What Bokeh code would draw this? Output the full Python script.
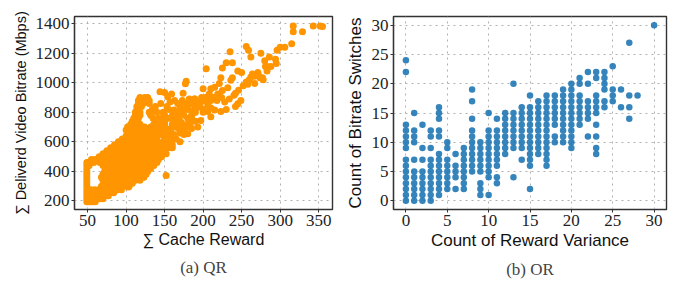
from bokeh.plotting import figure
from bokeh.layouts import row
from bokeh.models import Title, FixedTicker
from bokeh.embed import file_html
from bokeh.resources import INLINE

# ---------------- (a) QR data: cache reward vs delivered bitrate ----------------
# dense region, listed as bitrate level -> cache reward values
qr_rows = {
    195: [49, 51, 54, 57, 60],
    215: [49, 52, 55, 59, 62, 66, 70],
    235: [49, 53, 58, 63, 68, 73, 77],
    255: [49, 53, 57, 61, 65, 69, 74, 79, 84],
    275: [49, 54, 59, 64, 69, 74, 79, 84, 89, 94],
    300: [49, 68, 74, 80, 86, 92, 98, 104],
    320: [49, 72, 78, 84, 90, 96, 102, 108],
    340: [49, 70, 76, 82, 88, 94, 100, 106, 112, 118],
    360: [49, 68, 74, 80, 86, 92, 98, 104, 110, 116, 123],
    380: [49, 70, 78, 84, 90, 96, 102, 108, 114, 120, 126],
    400: [49, 72, 80, 86, 92, 98, 104, 110, 116, 122, 128],
    420: [49, 74, 82, 88, 94, 100, 106, 112, 118, 124, 132],
    440: [49, 52, 70, 78, 86, 92, 98, 104, 110, 116, 122, 128, 136],
    460: [49, 52, 58, 66, 74, 82, 90, 96, 102, 108, 114, 120, 126, 132, 140],
    480: [55, 60, 68, 76, 84, 92, 98, 104, 110, 116, 122, 128, 134, 142],
    500: [65, 72, 80, 88, 96, 102, 108, 114, 120, 126, 132, 138, 146],
    520: [70, 78, 86, 94, 100, 106, 112, 118, 124, 130, 136, 144, 152],
    540: [75, 82, 90, 98, 104, 110, 116, 122, 128, 134, 140, 148],
    560: [80, 88, 96, 102, 108, 114, 120, 126, 132, 138, 146, 155],
    580: [85, 92, 100, 106, 112, 118, 124, 130, 136, 144, 152, 160],
    600: [90, 98, 104, 110, 116, 122, 128, 134, 140, 148, 158],
    620: [95, 102, 108, 114, 120, 126, 132, 140, 150, 165],
    640: [100, 106, 112, 118, 124, 132, 140, 150, 160],
    660: [104, 110, 116, 122, 130, 138, 146, 155, 170],
    680: [100, 108, 114, 120, 128, 136, 145, 158, 175],
    700: [102, 110, 116, 124, 132, 140, 150, 165],
    720: [106, 112, 118, 136, 145, 160, 180],
    740: [108, 114, 140, 150, 170],
    760: [110, 116, 135, 145, 160, 185],
    780: [112, 118, 132, 150, 175],
    800: [112, 118, 130, 140, 165, 190],
    820: [114, 134, 155, 180, 200],
    840: [114, 120, 138, 170, 195],
    860: [116, 122, 130, 145, 185],
    880: [116, 124, 130, 190, 210],
    900: [118, 124, 128, 215],
}
# sparse points (cache reward, bitrate)
qr_extra_x = [144, 150, 154, 159, 162, 174, 177, 178, 167, 171, 180, 180, 189, 187, 193,
              197, 204, 208, 200, 210, 215, 221, 219, 225, 232, 236, 238, 240, 249, 245,
              215, 223, 210, 206, 197, 193, 256, 260, 223, 204, 235, 238, 230, 225, 245,
              256, 259, 262, 267, 267, 271, 274, 277, 275, 280, 281, 283, 286, 294, 295,
              296, 300, 306, 315, 317, 317, 329, 343, 352, 355, 152, 123, 103,
              145, 150, 155, 160, 165, 170, 175, 180, 185, 190, 195, 152, 158, 162, 168,
              172, 178, 183, 188, 145, 150, 155, 142, 148, 153, 157, 163, 167, 173, 178,
              182, 186, 192, 198, 202, 206, 212, 218, 224, 228, 234, 242, 246, 252, 258,
              262, 250, 264, 272, 278, 283, 288, 150, 160, 170, 175, 185, 190, 200, 210,
              230, 242]
qr_extra_y = [940, 935, 905, 925, 815, 930, 993, 1010, 770, 700, 655, 845, 892, 813, 835,
              870, 903, 925, 960, 960, 970, 995, 925, 948, 967, 1017, 1035, 915, 880, 858,
              815, 805, 770, 805, 745, 700, 1005, 1021, 1035, 1095, 1210, 1135, 1135, 1100, 1080,
              1245, 1220, 1175, 1045, 995, 1070, 1035, 1035, 1200, 1150, 1110, 1110, 1175, 1160, 1130,
              1220, 1240, 1240, 1265, 1385, 1345, 1345, 1385, 1385, 1382, 373, 362, 294,
              700, 720, 760, 780, 740, 800, 820, 760, 780, 830, 850, 680, 690, 650, 690,
              730, 700, 720, 800, 650, 600, 620, 760, 800, 840, 870, 880, 860, 880, 860,
              890, 860, 870, 900, 880, 850, 900, 880, 900, 870, 890, 930, 950, 980, 990,
              1040, 1070, 1060, 1050, 1020, 1080, 1110, 550, 560, 600, 650, 690, 740, 800, 830,
              820, 840]

cache_reward = [x for y, xs in qr_rows.items() for x in xs] + qr_extra_x
bitrate = [y for y, xs in qr_rows.items() for x in xs] + qr_extra_y

# ---------------- (b) OR data: reward variance count vs bitrate switches ----------------
or_columns = {
    0: [0, 1, 2, 3, 4, 5, 6, 7, 9, 10, 11, 12, 13, 22, 24],
    1: [0, 1, 2, 3, 4, 5, 7, 10, 11, 12, 15],
    2: [0, 1, 2, 3, 4, 5, 7, 9, 13],
    3: [0, 1, 2, 3, 4, 5, 6, 7, 9, 11, 12],
    4: [1, 2, 3, 4, 5, 6, 7, 8, 11, 12, 14, 15, 16],
    5: [2, 3, 4, 5, 6, 7, 9, 10],
    6: [2, 4, 5, 6, 8],
    7: [2, 3, 4, 5, 6, 7, 8, 9],
    8: [5, 6, 7, 8, 9, 10, 11, 12, 14, 17, 19],
    9: [1, 2, 3, 5, 6, 7, 8, 9, 10],
    10: [1, 4, 5, 6, 7, 8, 9, 10, 11, 12, 15],
    11: [3, 4, 6, 7, 8, 9, 10, 11, 12, 14],
    12: [8, 9, 10, 11, 12, 13, 14, 15],
    13: [4, 9, 10, 11, 12, 13, 14, 15, 20],
    14: [7, 9, 10, 11, 12, 13, 14, 15, 16],
    15: [2, 6, 7, 8, 9, 10, 11, 12, 13, 14, 15, 16, 18],
    16: [8, 9, 10, 11, 12, 13, 14, 15, 16, 17],
    17: [6, 7, 8, 9, 10, 11, 12, 13, 14, 15, 16, 17, 18],
    18: [10, 11, 13, 14, 15, 16, 17, 18],
    19: [10, 11, 12, 13, 14, 15, 16, 17, 18, 19],
    20: [9, 10, 11, 12, 13, 14, 15, 16, 17, 18, 19, 20],
    21: [13, 14, 15, 16, 17, 18, 20, 21],
    22: [11, 14, 15, 16, 17, 20, 22],
    23: [8, 9, 11, 13, 15, 16, 17, 18, 21, 22],
    24: [16, 17, 19, 20, 21, 22],
    25: [17, 18, 19, 23],
    26: [16, 19],
    27: [14, 16, 18, 27],
    28: [18],
    30: [30],
}
reward_variance = [x for x, ys in or_columns.items() for y in ys]
bitrate_switches = [y for x, ys in or_columns.items() for y in ys]

qr_xticks = [50, 100, 150, 200, 250, 300, 350]
qr_yticks = [200, 400, 600, 800, 1000, 1200, 1400]
or_ticks = [0, 5, 10, 15, 20, 25, 30]

SERIF = "Liberation Serif"
SANS = "Liberation Sans"


def style(p, xticks, yticks, xlabel_size, ylabel_size):
    p.xaxis.ticker = FixedTicker(ticks=xticks)
    p.yaxis.ticker = FixedTicker(ticks=yticks)
    p.xaxis.axis_label_text_font_size = xlabel_size
    p.yaxis.axis_label_text_font_size = ylabel_size
    for ax in (p.xaxis, p.yaxis):
        ax.major_label_text_font = SERIF
        ax.major_label_text_font_size = "17px"
        ax.major_label_text_color = "#222222"
        ax.axis_label_text_font = SANS
        ax.axis_label_text_font_style = "normal"
        ax.axis_label_text_color = "#111111"
        ax.minor_tick_line_color = None
        ax.major_tick_out = 3
        ax.major_tick_in = 0
        ax.major_tick_line_color = "#333333"
        ax.axis_line_color = "#333333"
        ax.axis_line_width = 1.2
        ax.major_label_standoff = 2
        ax.axis_label_standoff = 4
    p.xaxis.axis_label_standoff = 2
    for g in (p.xgrid, p.ygrid):
        g.grid_line_color = "#b0b0b0"
        g.grid_line_dash = "dotted"
        g.grid_line_width = 1
    p.outline_line_color = "#333333"
    p.outline_line_width = 1.4
    p.background_fill_color = "white"
    p.border_fill_color = "white"


p1 = figure(width=340, height=286, x_range=(33, 368), y_range=(142, 1449),
            output_backend="svg", toolbar_location=None,
            min_border_left=74, min_border_right=8, min_border_top=16, min_border_bottom=77)
p1.scatter(cache_reward, bitrate, size=7, color="#ff9500", line_color=None)
p1.xaxis.axis_label = "∑ Cache Reward"
p1.yaxis.axis_label = "∑ Deliverd Video Bitrate (Mbps)"
style(p1, qr_xticks, qr_yticks, "16px", "14.5px")
p1.add_layout(Title(text="(a) QR", align="center", text_font=SERIF,
                    text_font_size="17px", text_font_style="normal", standoff=11), "below")

p2 = figure(width=334, height=286, x_range=(-1.5, 31.5), y_range=(-1.5, 31.5),
            output_backend="svg", toolbar_location=None,
            min_border_left=53, min_border_right=8, min_border_top=6, min_border_bottom=77)
p2.scatter(reward_variance, bitrate_switches, size=6.5, color="#1f77b4",
           line_color=None, fill_alpha=0.9)
p2.xaxis.axis_label = "Count of Reward Variance"
p2.yaxis.axis_label = "Count of Bitrate Switches"
style(p2, or_ticks, or_ticks, "17px", "17px")
p2.add_layout(Title(text="(b) OR", align="center", text_font=SERIF,
                    text_font_size="17px", text_font_style="normal", standoff=11), "below")

layout = row(p1, p2)
open("out.html", "w").write(file_html(layout, INLINE))
